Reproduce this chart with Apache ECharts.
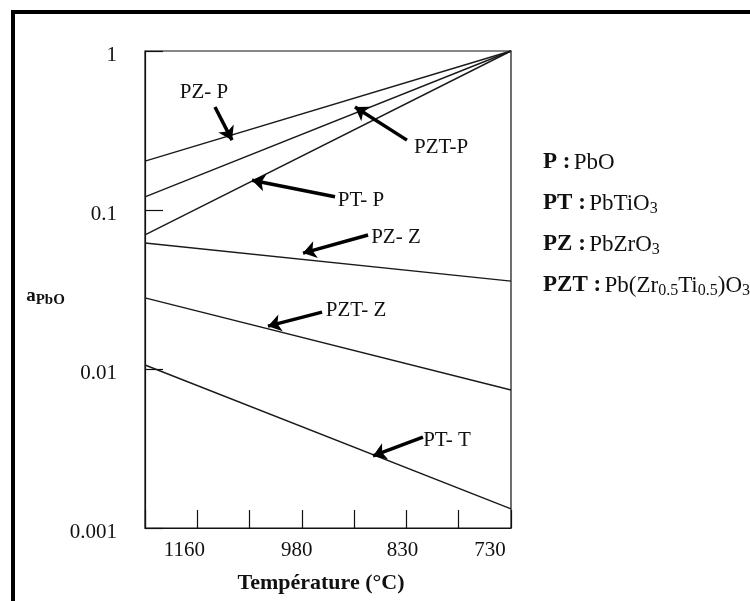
<!DOCTYPE html>
<html>
<head>
<meta charset="utf-8">
<script src="https://cdn.jsdelivr.net/npm/echarts@6/dist/echarts.min.js"></script>
<style>html,body{margin:0;padding:0;background:#fff;}#c{width:750px;height:601px;}</style>
</head>
<body>
<div id="c"></div>
<script>
// x axis: 10^4 / T (K^-1); labelled in °C
const xEnds = [6.5, 10];
const xTickValues = [7, 8, 9, 10];
const xTickLabels = ['1160', '980', '830', '730'];
const yTickValues = [1, 0.1, 0.01, 0.001];
const yTickLabels = ['1', '0.1', '0.01', '0.001'];

const seriesNames = ['PZ-P', 'PZT-P', 'PT-P', 'PZ-Z', 'PZT-Z', 'PT-T'];
const pzP  = [0.203, 1];
const pztP = [0.121, 1];
const ptP  = [0.0697, 1];
const pzZ  = [0.062, 0.0357];
const pztZ = [0.028, 0.00738];
const ptT  = [0.0106, 0.00132];
const seriesValues = [pzP, pztP, ptP, pzZ, pztZ, ptT];

// annotations (data coordinates)
const annotLabels = ['PZ- P', 'PZT-P', 'PT- P', 'PZ- Z', 'PZT- Z', 'PT- T'];
const annotText = [[7.064, 0.552], [9.331, 0.249], [8.566, 0.114], [8.900, 0.0667], [8.518, 0.0232], [9.388, 0.00357]];
const arrowFrom = [[7.169, 0.444], [9.005, 0.275], [8.317, 0.121], [8.633, 0.0696], [8.193, 0.0228], [9.158, 0.00373]];
const arrowTo   = [[7.332, 0.275], [8.508, 0.444], [7.523, 0.154], [8.011, 0.0536], [7.676, 0.0186], [8.680, 0.00284]];

const legendAbbr = ['P', 'PT', 'PZ', 'PZT'];
const legendFormula = ['PbO', 'PbTiO{sub|3}', 'PbZrO{sub|3}', 'Pb(Zr{sub|0.5}Ti{sub|0.5})O{sub|3}'];

const FONT = "'Liberation Serif', 'Times New Roman', serif";

const chart = echarts.init(document.getElementById('c'), null, {renderer: 'canvas'});

const series = seriesNames.map((name, i) => ({
  name: name,
  type: 'line',
  data: xEnds.map((x, j) => [x, seriesValues[i][j]]),
  symbol: 'none',
  lineStyle: {color: '#1a1a1a', width: 1.4},
  silent: true,
  markLine: {
    silent: true,
    symbol: ['none', 'arrow'],
    symbolSize: 13,
    lineStyle: {color: '#000', width: 3.5, type: 'solid'},
    label: {show: false},
    data: [[{coord: arrowFrom[i]}, {coord: arrowTo[i]}]]
  },
  markPoint: {
    silent: true,
    symbol: 'circle',
    symbolSize: 0,
    label: {
      show: true, position: 'inside', color: '#111',
      fontFamily: FONT, fontSize: 21,
      formatter: annotLabels[i]
    },
    data: [{coord: annotText[i]}]
  }
}));

const xRich = {};
const xPads = [26, 10, 8, 42];
xTickValues.forEach((v, i) => { xRich['l' + i] = {padding: [0, xPads[i], 0, 0], fontFamily: FONT, fontSize: 21, color: '#111'}; });

const legendGraphics = legendAbbr.map((a, i) => {
  const txt = legendFormula[i].replace(/\{sub\|([^}]*)\}/g, '}{sub|$1}{n|');
  return {
    type: 'text',
    left: 543,
    top: 151 + i * 41,
    silent: true,
    style: {
      text: '{b|' + a + ' :} {n|' + txt + '}',
      rich: {
        b: {fontFamily: FONT, fontSize: 23, fontWeight: 'bold', fill: '#111', lineHeight: 26},
        n: {fontFamily: FONT, fontSize: 23, fill: '#111', lineHeight: 26},
        sub: {fontFamily: FONT, fontSize: 16, fill: '#111', lineHeight: 12, verticalAlign: 'bottom'}
      }
    }
  };
});

const option = {
  animation: false,
  backgroundColor: '#fff',
  grid: {left: 145, top: 51, right: 239, bottom: 73, show: true, borderColor: '#111', borderWidth: 1.2, backgroundColor: 'transparent'},
  xAxis: {
    type: 'value', min: 6.5, max: 10, interval: 0.5,
    name: 'Température (°C)', nameLocation: 'middle', nameGap: 44,
    nameTextStyle: {fontFamily: FONT, fontSize: 22, fontWeight: 'bold', color: '#111', padding: [0, 14, 0, 0]},
    axisLine: {show: true, lineStyle: {color: '#111', width: 1.2}},
    axisTick: {show: true, inside: true, length: 18, lineStyle: {color: '#111', width: 1.2}},
    splitLine: {show: false},
    axisLabel: {
      margin: 12, showMinLabel: true, showMaxLabel: true,
      formatter: function (v) {
        for (let i = 0; i < xTickValues.length; i++) {
          if (Math.abs(v - xTickValues[i]) < 1e-6) return '{l' + i + '|' + xTickLabels[i] + '}';
        }
        return '';
      },
      rich: xRich
    }
  },
  yAxis: {
    type: 'log', logBase: 10, min: 0.001, max: 1,
    name: '{a|a}{sub|PbO}', nameLocation: 'middle', nameGap: 58, nameRotate: 0,
    nameTextStyle: {
      padding: [14, 0, 0, 0],
      rich: {
        a: {fontFamily: FONT, fontSize: 19, fontWeight: 'bold', color: '#111', lineHeight: 22},
        sub: {fontFamily: FONT, fontSize: 15, fontWeight: 'bold', color: '#111', lineHeight: 12, verticalAlign: 'bottom'}
      }
    },
    axisLine: {show: true, lineStyle: {color: '#111', width: 1.2}},
    axisTick: {show: true, inside: true, length: 18, lineStyle: {color: '#111', width: 1.2}},
    minorTick: {show: false},
    splitLine: {show: false},
    axisLabel: {
      margin: 28,
      formatter: function (v) {
        for (let i = 0; i < yTickValues.length; i++) {
          if (Math.abs(Math.log10(v) - Math.log10(yTickValues[i])) < 1e-6) return '{v|' + yTickLabels[i] + '}';
        }
        return '';
      },
      rich: {
        v: {fontFamily: FONT, fontSize: 21, color: '#111', padding: [9, 0, 0, 0]}
      }
    }
  },
  series: series,
  graphic: [
    {type: 'rect', shape: {x: 11, y: 10, width: 739, height: 4}, style: {fill: '#000'}, silent: true},
    {type: 'rect', shape: {x: 11, y: 10, width: 4, height: 591}, style: {fill: '#000'}, silent: true}
  ].concat(legendGraphics)
};

chart.setOption(option);
</script>
</body>
</html>
